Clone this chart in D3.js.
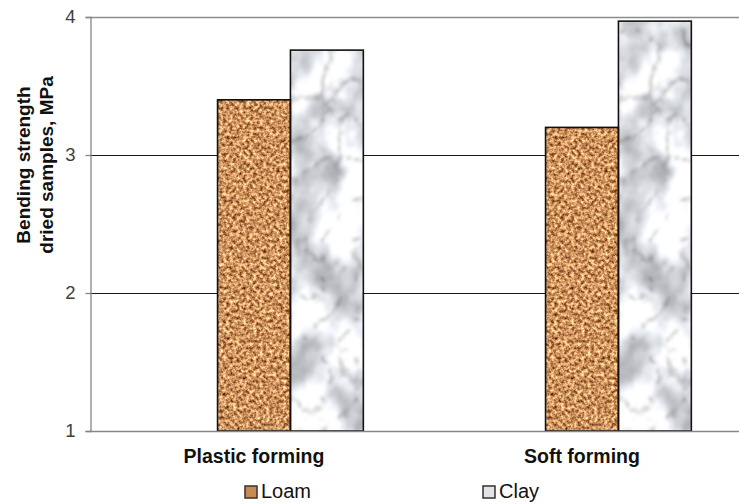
<!DOCTYPE html>
<html>
<head>
<meta charset="utf-8">
<script src="https://cdn.jsdelivr.net/npm/d3@7/dist/d3.min.js"></script>
<style>
  html, body { margin: 0; padding: 0; background: #fff; }
  svg { display: block; font-family: Arial, "Liberation Sans", sans-serif; }
</style>
</head>
<body>
<svg id="chart" width="739" height="504"></svg>
<script>
// Bending strength of dried samples by forming method
const categories = ["Plastic forming", "Soft forming"];
const seriesNames = ["Loam", "Clay"];
const loamValues = [3.4, 3.2];
const clayValues = [3.76, 3.97];
const yTicks = [1, 2, 3, 4];

const svg = d3.select("#chart");
const W = 739, H = 504;
const plot = { left: 90, right: 746, top: 17, bottom: 431 };

// Surface textures: cork-like grain for loam, marble for clay
const defs = svg.append("defs");
const cork = defs.append("filter").attr("id", "cork")
  .attr("x", 0).attr("y", 0).attr("width", 1).attr("height", 1)
  .attr("color-interpolation-filters", "sRGB");
cork.append("feTurbulence").attr("type", "fractalNoise")
  .attr("baseFrequency", 0.3).attr("numOctaves", 3).attr("seed", 7).attr("result", "n");
cork.append("feColorMatrix").attr("in", "n").attr("type", "matrix")
  .attr("values", "1.2 0 0 0 0.2  1.25 0 0 0 -0.05  1.0 0 0 0 -0.13  0 0 0 0 1")
  .attr("result", "c");
cork.append("feGaussianBlur").attr("in", "c").attr("stdDeviation", 0.5).attr("result", "b");
cork.append("feComposite").attr("in", "b").attr("in2", "SourceGraphic").attr("operator", "in");

// marble = soft grey clouds multiplied by thin darker veins
const marble = defs.append("filter").attr("id", "marble")
  .attr("x", 0).attr("y", 0).attr("width", 1).attr("height", 1)
  .attr("color-interpolation-filters", "sRGB");
marble.append("feTurbulence").attr("type", "fractalNoise")
  .attr("baseFrequency", "0.025 0.02").attr("numOctaves", 4).attr("seed", 4).attr("result", "cloudNoise");
marble.append("feColorMatrix").attr("in", "cloudNoise").attr("type", "matrix")
  .attr("values", "0.9 0 0 0 0.46  0.9 0 0 0 0.47  0.9 0 0 0 0.49  0 0 0 0 1")
  .attr("result", "clouds");
marble.append("feTurbulence").attr("type", "turbulence")
  .attr("baseFrequency", "0.03 0.025").attr("numOctaves", 4).attr("seed", 11).attr("result", "veinNoise");
marble.append("feColorMatrix").attr("in", "veinNoise").attr("type", "matrix")
  .attr("values", "1.4 0 0 0 0.72  1.4 0 0 0 0.72  1.4 0 0 0 0.72  0 0 0 0 1")
  .attr("result", "veins");
marble.append("feComposite").attr("in", "clouds").attr("in2", "veins")
  .attr("operator", "arithmetic").attr("k1", 1).attr("k2", 0).attr("k3", 0).attr("k4", 0)
  .attr("result", "mix");
marble.append("feGaussianBlur").attr("in", "mix").attr("stdDeviation", 1.4).attr("result", "b");
marble.append("feComposite").attr("in", "b").attr("in2", "SourceGraphic").attr("operator", "in");

const fills = { Loam: "url(#cork)", Clay: "url(#marble)" };
const swatchFill = { Loam: "#c98a52", Clay: "#e2e3e6" };

// Scales: each category group holds three bar slots, the bars use the last two
const x0 = d3.scaleBand().domain(categories).range([plot.left, plot.right]);
const x1 = d3.scaleBand().domain([0, 1, 2]).range([0, x0.bandwidth()])
  .paddingInner(0).paddingOuter(0.75);
const y = d3.scaleLinear().domain([1, 4]).range([plot.bottom, plot.top]);

// Horizontal gridlines
svg.append("g").selectAll("line").data(yTicks.filter(t => t > 1)).join("line")
  .attr("x1", plot.left).attr("x2", W)
  .attr("y1", d => Math.round(y(d)) + 0.5).attr("y2", d => Math.round(y(d)) + 0.5)
  .attr("stroke", d => d === 4 ? "#8c8c8c" : "#1a1a1a")
  .attr("stroke-width", d => d === 4 ? 1.6 : 1);

// Bars
const rows = categories.map((c, i) => ({ c, vals: [loamValues[i], clayValues[i]] }));
const barData = d => d.vals.map((v, k) => ({ v, s: seriesNames[k], slot: k + 1 }));
const groups = svg.append("g").selectAll("g").data(rows).join("g")
  .attr("transform", d => `translate(${x0(d.c)},0)`);
groups.selectAll("rect.fill").data(barData)
  .join("rect").attr("class", "fill")
  .attr("x", d => x1(d.slot)).attr("width", x1.bandwidth())
  .attr("y", d => y(d.v)).attr("height", d => y(1) - y(d.v))
  .attr("fill", "#fff").attr("filter", d => fills[d.s]);
groups.selectAll("rect.edge").data(barData)
  .join("rect").attr("class", "edge")
  .attr("x", d => x1(d.slot)).attr("width", x1.bandwidth())
  .attr("y", d => y(d.v)).attr("height", d => y(1) - y(d.v))
  .attr("fill", "none").attr("stroke", "#111").attr("stroke-width", 1.6);

// Y axis
const yAxis = d3.axisLeft(y).tickValues(yTicks).tickFormat(d3.format("d"))
  .tickSize(5).tickPadding(10);
const ya = svg.append("g").attr("transform", `translate(${plot.left + 0.5},0)`).call(yAxis);
ya.select(".domain").attr("stroke", "#868686").attr("stroke-width", 1.3);
ya.selectAll(".tick line").attr("stroke", "#868686").attr("stroke-width", 1.3);
ya.selectAll(".tick text").attr("fill", "#404040").attr("font-size", 18.5)
  .attr("font-family", "Arial, 'Liberation Sans', sans-serif");

// X baseline
svg.append("line").attr("x1", plot.left).attr("x2", W)
  .attr("y1", y(1) + 0.5).attr("y2", y(1) + 0.5)
  .attr("stroke", "#868686").attr("stroke-width", 1.3);

// Category labels
svg.append("g").selectAll("text").data(categories).join("text")
  .attr("x", d => x0(d) + x0.bandwidth() / 2).attr("y", 463)
  .attr("text-anchor", "middle").attr("font-size", 19.5).attr("font-weight", "bold")
  .attr("fill", "#111").text(d => d);

// Y axis title
const title = svg.append("text").attr("transform", "translate(0,165) rotate(-90)")
  .attr("text-anchor", "middle").attr("font-size", 19).attr("font-weight", "bold").attr("fill", "#111");
title.append("tspan").attr("x", 0).attr("y", 30).text("Bending strength");
title.append("tspan").attr("x", 0).attr("y", 53).text("dried samples, MPa");

// Legend
const legendX = [245, 483];
const lg = svg.append("g").selectAll("g").data(seriesNames).join("g")
  .attr("transform", (d, i) => `translate(${legendX[i]},486)`);
lg.append("rect").attr("width", 12).attr("height", 12).attr("fill", d => swatchFill[d]);
lg.append("rect").attr("width", 12).attr("height", 12).attr("fill", "none")
  .attr("stroke", "#333").attr("stroke-width", 1.5);
lg.append("text").attr("x", 16).attr("y", 12).attr("font-size", 20)
  .attr("fill", "#111").text(d => d);
</script>
</body>
</html>
